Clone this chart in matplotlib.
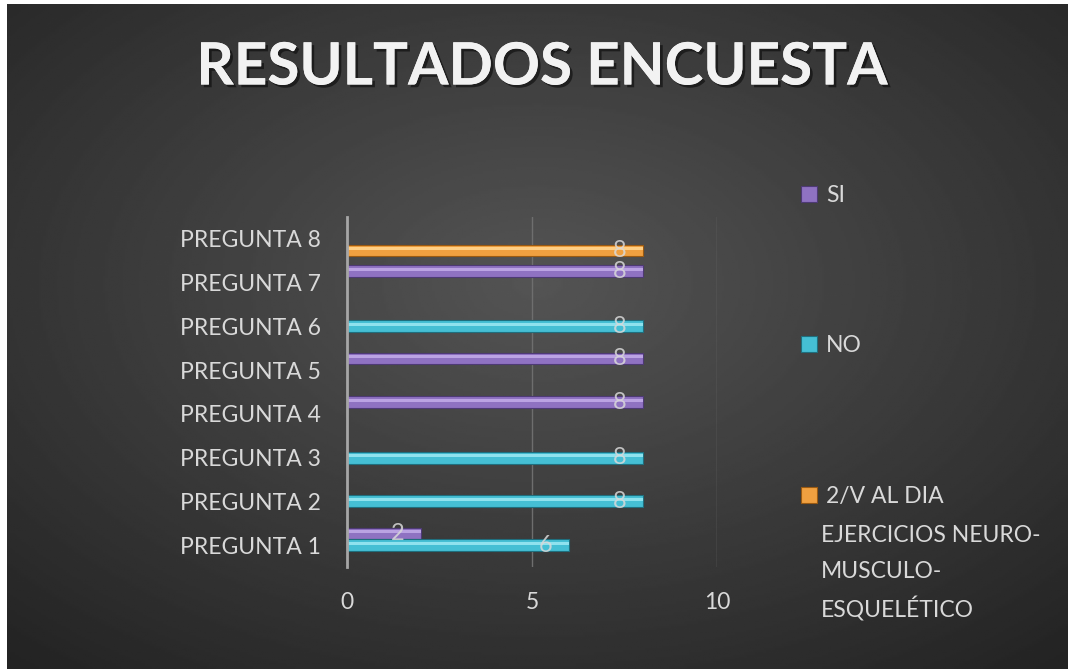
import numpy as np
import matplotlib.pyplot as plt
from matplotlib import patheffects as pe

# survey answers per question (None = no answer in that series)
preguntas = ['PREGUNTA 1', 'PREGUNTA 2', 'PREGUNTA 3', 'PREGUNTA 4',
             'PREGUNTA 5', 'PREGUNTA 6', 'PREGUNTA 7', 'PREGUNTA 8']
si = [2, None, None, 8, 8, None, 8, None]
no = [6, 8, 8, None, None, 8, None, None]
ejercicios = [None, None, None, None, None, None, None, 8]

series_names = ['SI', 'NO', '2/V AL DIA']
extra_lines = ['EJERCICIOS NEURO-', 'MUSCULO-', 'ESQUELÉTICO']
x_ticks = [0, 5, 10]

plt.rcParams['font.family'] = ['Lato', 'DejaVu Sans']
txt_color = '#d9d9d9'
fs = 16.5

fig = plt.figure(figsize=(10.68, 6.69), dpi=100, facecolor='white')

# dark radial gradient background
bg = fig.add_axes([7 / 1068, 0, 1 - 7 / 1068, 1 - 4 / 669])
bg.set_axis_off()
yy, xx = np.mgrid[0:1:300j, 0:1:480j]
r = np.sqrt(((xx - 0.5) / 0.75) ** 2 + ((yy - 0.42) / 0.75) ** 2)
shade = 0.33 - 0.19 * np.clip(r, 0, 1)
bg.imshow(shade, cmap='gray', vmin=0, vmax=1, aspect='auto',
          extent=[0, 1, 0, 1], origin='upper')

ax = fig.add_axes([347 / 1068, 1 - 567 / 669, 370 / 1068, 350 / 669])
ax.set_facecolor('none')

y = np.arange(len(preguntas))
h = 0.27
styles = [
    (si, 0.265, '#8f72c2', '#bba3e3', '#4e3a75'),
    (no, 0.0, '#45bfd4', '#8fe2ee', '#1f6f7e'),
    (ejercicios, -0.265, '#f0a040', '#ffcf85', '#9a5a12'),
]
for vals, off, base, light, dark in styles:
    idx = [i for i, v in enumerate(vals) if v is not None]
    w = [vals[i] for i in idx]
    pos = y[idx] + off
    ax.barh(pos, w, height=h, color=base, edgecolor=dark, linewidth=0.8, zorder=3)
    ax.barh(pos + 0.04, w, height=0.07, color=light, linewidth=0, zorder=4)
    for p, v in zip(pos, w):
        ax.text(v - 0.62, p, str(v), ha='center', va='center', fontsize=17,
                color=txt_color, alpha=0.85, zorder=5)

ax.set_xlim(0, 10)
ax.set_ylim(-0.5, len(preguntas) - 0.5)
ax.set_xticks(x_ticks)
ax.set_yticks(y)
ax.set_yticklabels(preguntas)
ax.tick_params(axis='both', length=0, colors=txt_color, labelsize=fs)
ax.tick_params(axis='y', pad=19)
ax.tick_params(axis='x', pad=18)
ax.grid(axis='x', color='#6e6e6e', linewidth=1, zorder=0)
for s in ['top', 'right', 'bottom']:
    ax.spines[s].set_visible(False)
ax.spines['left'].set_color('#a6a6a6')
ax.spines['left'].set_linewidth(2)
ax.spines['left'].set_zorder(6)

fig.text(0.508, 1 - 68 / 669, 'RESULTADOS ENCUESTA', ha='center', va='center',
         fontsize=42, fontweight='bold', color='#f2f2f2',
         path_effects=[pe.withSimplePatchShadow(offset=(2, -2), shadow_rgbFace='black', alpha=0.5),
                       pe.Normal()])

handles = [plt.Rectangle((0, 0), 1, 1, facecolor=c[2], edgecolor=c[4], linewidth=0.8)
           for c in styles]
leg = fig.legend(handles, series_names, loc='upper left',
                 bbox_to_anchor=(780 / 1068, 1 - 164 / 669), frameon=False,
                 fontsize=fs, labelcolor=txt_color, handlelength=0.7,
                 handleheight=0.7, handletextpad=0.4, labelspacing=5.65)
# rest of the long legend label, one line each
for k, line in enumerate(extra_lines):
    fig.text(821 / 1068, 1 - (535 + 37 * k) / 669, line, ha='left', va='center',
             fontsize=fs, color=txt_color)

fig.savefig('out.png', dpi=100, facecolor=fig.get_facecolor())
